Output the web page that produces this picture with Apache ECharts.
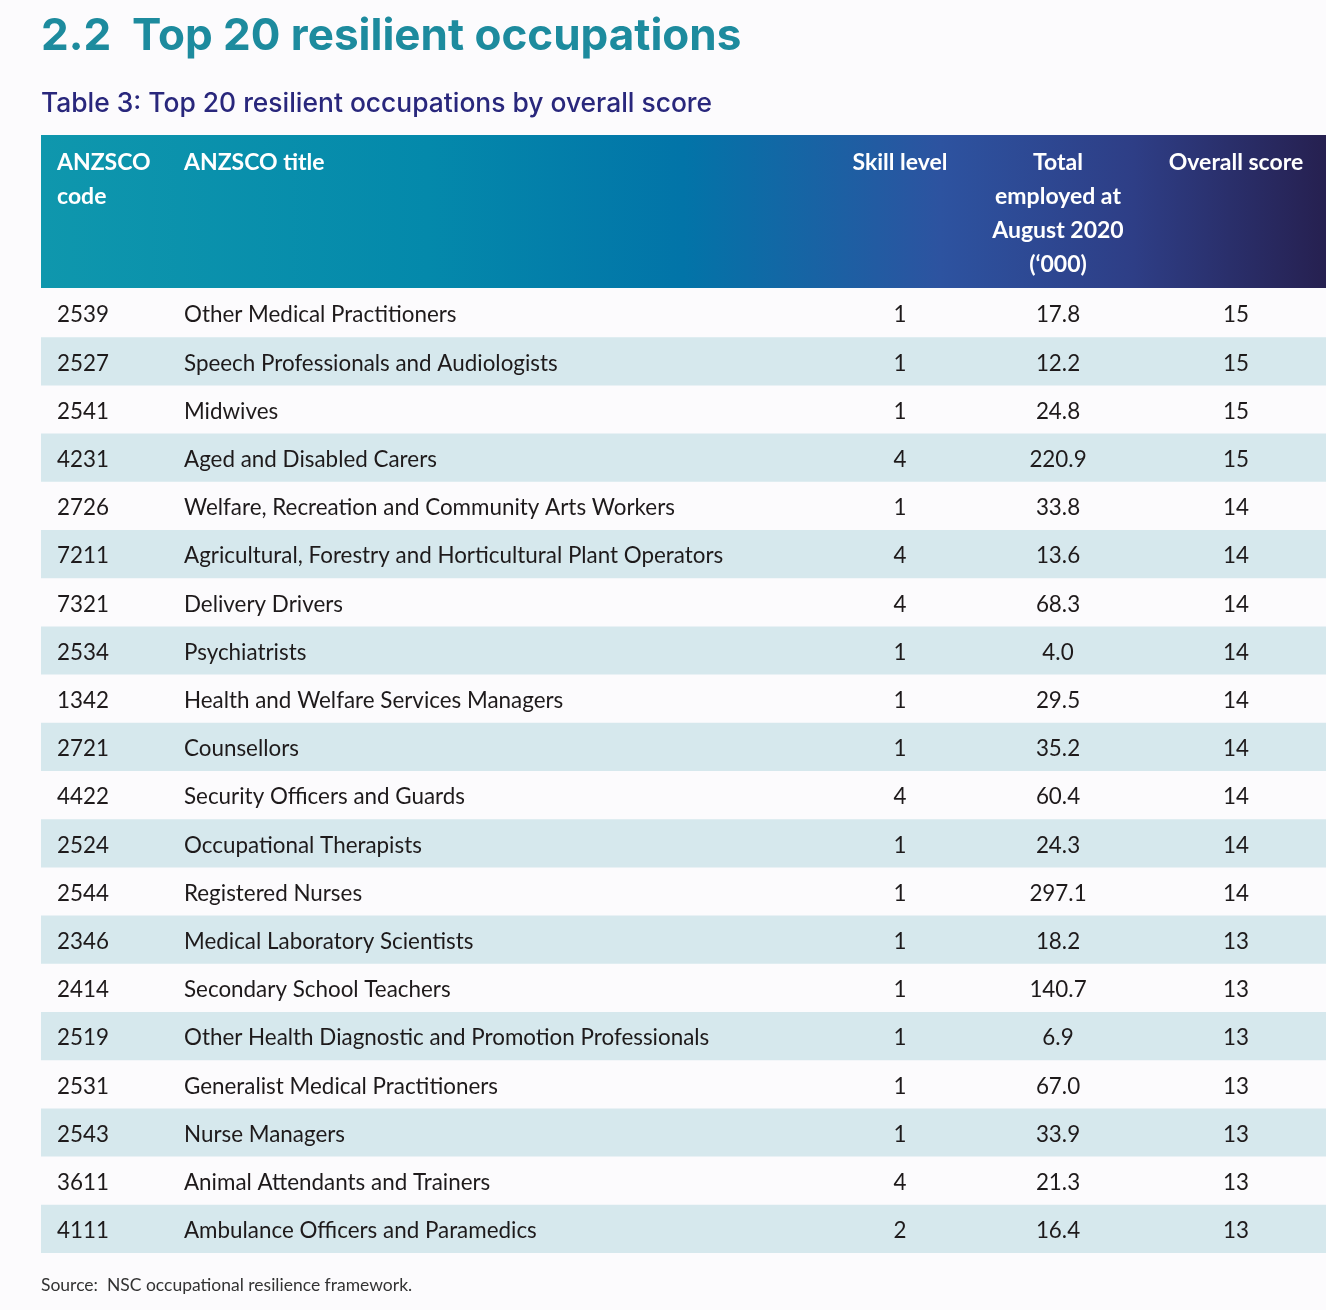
<!DOCTYPE html>
<html><head><meta charset="utf-8">
<script src="https://cdn.jsdelivr.net/npm/echarts@6/dist/echarts.min.js"></script>
<style>html,body{margin:0;padding:0;background:#fcfbfd}#c{width:1326px;height:1310px}</style>
</head><body><div id="c"></div>
<script>
const pageTitle = '2.2  Top 20 resilient occupations';
const tableTitle = 'Table 3: Top 20 resilient occupations by overall score';
const sourceNote = 'Source:  NSC occupational resilience framework.';
const headers = ['ANZSCO\ncode', 'ANZSCO title', 'Skill level', 'Total\nemployed at\nAugust 2020\n(\u2018000)', 'Overall score'];
const codes = ['2539','2527','2541','4231','2726','7211','7321','2534','1342','2721','4422','2524','2544','2346','2414','2519','2531','2543','3611','4111'];
const titles = ['Other Medical Practitioners','Speech Professionals and Audiologists','Midwives','Aged and Disabled Carers','Welfare, Recreation and Community Arts Workers','Agricultural, Forestry and Horticultural Plant Operators','Delivery Drivers','Psychiatrists','Health and Welfare Services Managers','Counsellors','Security Officers and Guards','Occupational Therapists','Registered Nurses','Medical Laboratory Scientists','Secondary School Teachers','Other Health Diagnostic and Promotion Professionals','Generalist Medical Practitioners','Nurse Managers','Animal Attendants and Trainers','Ambulance Officers and Paramedics'];
const skillLevel = [1,1,1,4,1,4,4,1,1,1,4,1,1,1,1,1,1,1,4,2];
const employed = [17.8,12.2,24.8,220.9,33.8,13.6,68.3,4.0,29.5,35.2,60.4,24.3,297.1,18.2,140.7,6.9,67.0,33.9,21.3,16.4];
const overallScore = [15,15,15,15,14,14,14,14,14,14,14,14,14,13,13,13,13,13,13,13];

// layout (pixels within table)
const TL = 41, TW = 1285;
const colX = [16, 143, 859, 1017, 1195];
const colAlign = ['left','left','center','center','center'];
const bodyFont = '22.4px Lato';
const headFont = 'bold 23px Lato';

const rows = codes.map((c, i) => i);
const chart = echarts.init(document.getElementById('c'));

const headerGraphics = headers.map((h, j) => ({
  type: 'text', x: TL + colX[j], y: 145, z: 10,
  style: { text: h, font: headFont, fill: '#ffffff', align: colAlign[j], verticalAlign: 'top', lineHeight: 34.3 }
}));

chart.setOption({
  backgroundColor: '#fcfbfd',
  animation: false,
  grid: { left: TL, right: 1326 - TL - TW, top: 289, bottom: 57 },
  xAxis: { type: 'value', min: 0, max: TW, show: false },
  yAxis: { type: 'category', data: codes, inverse: true, show: false },
  graphic: [
    { type: 'text', x: 41, y: 15, style: { text: pageTitle, font: 'bold 44px Inter', fill: '#1d8b9e', verticalAlign: 'top' } },
    { type: 'text', x: 41, y: 91, style: { text: tableTitle, font: '500 26.4px Inter', fill: '#29277c', verticalAlign: 'top' } },
    { type: 'rect', z: 1, shape: { x: TL, y: 135, width: TW, height: 153 },
      style: { fill: new echarts.graphic.LinearGradient(0, 0, 1, 0, [
        { offset: 0, color: '#0f97ad' }, { offset: 0.3, color: '#0489ab' }, { offset: 0.5, color: '#0274a8' },
        { offset: 0.7, color: '#2d53a0' }, { offset: 0.85, color: '#2e3e86' }, { offset: 1, color: '#262050' }]) } },
    ...headerGraphics,
    { type: 'text', x: 41, y: 1276, style: { text: sourceNote, font: '17.5px Lato', fill: '#333333', verticalAlign: 'top' } }
  ],
  series: [
    { type: 'bar', barCategoryGap: '0%', silent: true, z: 1,
      data: rows.map(i => (i % 2 === 1 ? TW : '-')),
      itemStyle: { color: '#d6e8ed' } },
    { type: 'custom', silent: true, z: 10,
      data: rows.map(i => [i]),
      renderItem: function (params, api) {
        const i = api.value(0);
        const vals = [codes[i], titles[i], String(skillLevel[i]), employed[i].toFixed(1), String(overallScore[i])];
        return { type: 'group', children: vals.map((v, j) => {
          const p = api.coord([colX[j], i]);
          return { type: 'text', x: p[0], y: p[1] + 2, z2: 10,
            style: { text: v, font: bodyFont, fill: '#1e1a1b', align: colAlign[j], verticalAlign: 'middle' } };
        }) };
      } }
  ]
});
</script></body></html>
